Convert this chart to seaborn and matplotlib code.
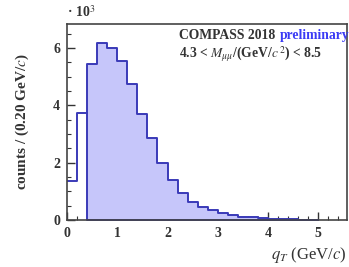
import matplotlib
matplotlib.use("Agg")
import matplotlib.pyplot as plt
from matplotlib.ticker import MultipleLocator
import numpy as np
import seaborn as sns

# q_T bins of 0.20 GeV/c, counts in units of 10^3
bin_edges = [round(0.2 * i, 1) for i in range(26)]
counts_k = [1.36, 3.74, 5.43, 6.19, 6.00, 5.56, 4.76, 3.70, 2.87, 1.98,
            1.40, 0.93, 0.62, 0.46, 0.35, 0.23, 0.17, 0.12, 0.09, 0.06,
            0.05, 0.04, 0.03, 0.01, 0.01]
n_unfilled = 2  # first two bins drawn as outline only

sns.set_theme(style="white")
plt.rcParams["font.family"] = ["Liberation Serif", "DejaVu Serif"]
plt.rcParams["mathtext.fontset"] = "stix"

line_c = "#3a3ab8"
fill_c = "#c6c6fa"

edges = np.array(bin_edges)
centers = (edges[:-1] + edges[1:]) / 2
w = np.array(counts_k)

fig = plt.figure(figsize=(3.49, 2.67), dpi=100)
ax = fig.add_axes([0.192, 0.176, 0.802, 0.734])

sns.histplot(x=list(centers[n_unfilled:]), weights=list(w[n_unfilled:]),
             bins=list(bin_edges[n_unfilled:]),
             element="step", fill=True, color=fill_c, alpha=1.0,
             edgecolor=line_c, linewidth=1.4, ax=ax)
sns.histplot(x=list(centers[:n_unfilled]), weights=list(w[:n_unfilled]),
             bins=list(bin_edges[:n_unfilled + 1]),
             element="step", fill=False, color=line_c, linewidth=1.4, ax=ax)

ax.set_xlim(0, 5.57)
ax.set_ylim(0, 6.84)
ax.xaxis.set_major_locator(MultipleLocator(1))
ax.xaxis.set_minor_locator(MultipleLocator(0.2))
ax.yaxis.set_major_locator(MultipleLocator(2))
ax.yaxis.set_minor_locator(MultipleLocator(0.5))
ax.tick_params(which="both", direction="in", bottom=True, left=True,
               top=False, right=False, colors="#333333", labelcolor="#333333")
ax.tick_params(which="major", length=6, width=1.0, labelsize=10, pad=5)
ax.tick_params(which="minor", length=3, width=0.8)
for lab in ax.get_xticklabels() + ax.get_yticklabels():
    lab.set_fontweight("bold")
for s in ax.spines.values():
    s.set_color("#444444")
    s.set_linewidth(1.2)

ax.set_ylabel("counts / (0.20 GeV/$c$)", fontsize=11, fontweight="bold",
              color="#333333", labelpad=16)
ax.set_xlabel("$q_T$ (GeV/$c$)", fontsize=12, color="#333333")
ax.xaxis.set_label_coords(1.0, -0.13)
ax.xaxis.label.set_horizontalalignment("right")

ax.text(0.0, 1.02, "· 10$^3$", transform=ax.transAxes, fontsize=10,
        fontweight="bold", color="#333333", ha="left", va="bottom")

ax.text(0.40, 0.94, "COMPASS 2018", transform=ax.transAxes, fontsize=9.8,
        fontweight="bold", color="#333333", ha="left", va="center")
ax.text(0.762, 0.94, "preliminary", transform=ax.transAxes, fontsize=9.8,
        fontweight="bold", color="#3b3bf5", ha="left", va="center")
ax.text(0.40, 0.847, r"4.3 < $M_{\mu\mu}$/(GeV/$c^{\,2}$) < 8.5", transform=ax.transAxes,
        fontsize=9.8, fontweight="bold", color="#333333", ha="left", va="center")

fig.savefig("out.png", dpi=100)
